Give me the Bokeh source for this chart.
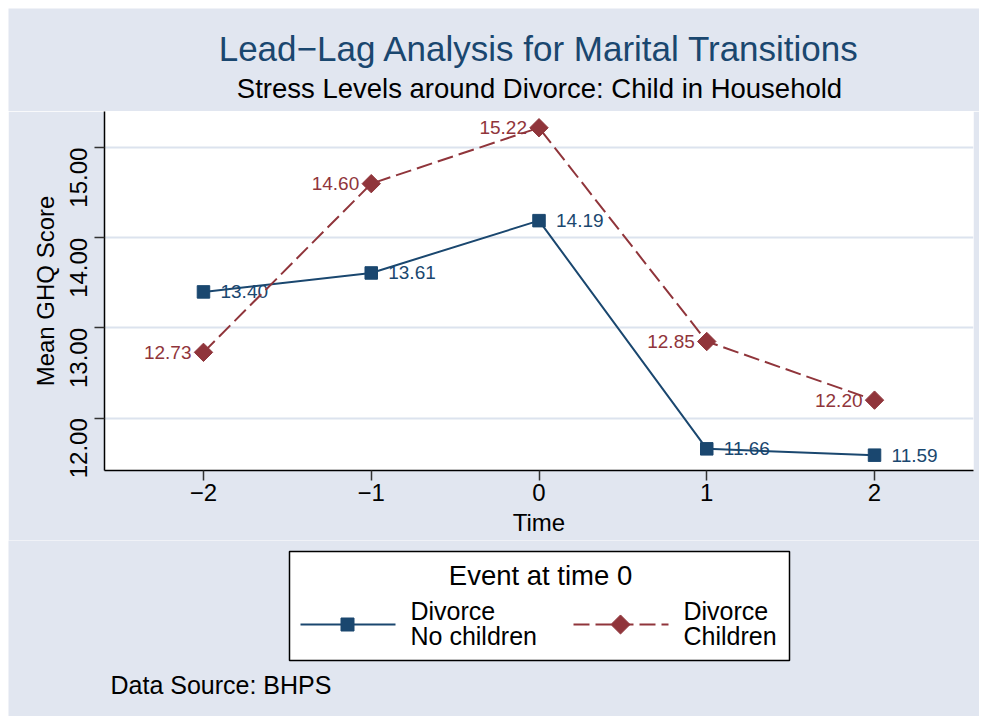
import math
from bokeh.plotting import figure
from bokeh.layouts import column
from bokeh.models import Range1d, FixedTicker, Label
from bokeh.core.properties import value
from bokeh.embed import file_html
from bokeh.resources import INLINE

# ---------------- data ----------------
time = [-2, -1, 0, 1, 2]
no_children = [13.40, 13.61, 14.19, 11.66, 11.59]
children = [12.73, 14.60, 15.22, 12.85, 12.20]
x_ticks = [-2, -1, 0, 1, 2]
x_tick_labels = ["\u22122", "\u22121", "0", "1", "2"]
y_ticks = [12, 13, 14, 15]
y_tick_labels = ["12.00", "13.00", "14.00", "15.00"]
legend_labels_nc = ["Divorce", "No children"]
legend_labels_c = ["Divorce", "Children"]
title_text = "Lead\u2212Lag Analysis for Marital Transitions"
subtitle_text = "Stress Levels around Divorce: Child in Household"
legend_title = "Event at time 0"
note_text = "Data Source: BHPS"
x_label = "Time"
y_label = "Mean GHQ Score"

# ---------------- style ----------------
BG = "#E1E6F0"
GRID = "#DCE3EE"
NAVY = "#1A476F"
MAROON = "#90353B"
FONT = "Liberation Sans"
DASH = "16 6"
W = 971
H_HEAD, H_MAIN, H_FOOT = 103, 429, 176


def no_align(f):
    try:
        f.frame_align = False
    except Exception:
        pass


def blank(h):
    f = figure(width=W, height=h, x_range=Range1d(0, W), y_range=Range1d(0, h),
               toolbar_location=None, output_backend="svg",
               x_axis_type=None, y_axis_type=None, min_border=0)
    f.background_fill_color = BG
    f.border_fill_color = None
    f.outline_line_color = None
    for g in f.grid:
        g.visible = False
    no_align(f)
    return f


def label(f, x, y, text, size, color="black", align="left"):
    f.add_layout(Label(x=x, y=y, text=text, text_font=FONT, text_font_size=size,
                       text_color=color, text_align=align, text_baseline="alphabetic"))


# ---------------- header ----------------
header = blank(H_HEAD)
label(header, 531, 63, title_text, "35px", NAVY, "center")
label(header, 531, 23, subtitle_text, "27.5px", "black", "center")

# ---------------- main plot ----------------
p = figure(width=W, height=H_MAIN, x_range=Range1d(-2.59, 2.59), y_range=Range1d(11.42, 15.40),
           toolbar_location=None, output_backend="svg",
           min_border_left=96, min_border_right=6, min_border_top=0, min_border_bottom=70)
p.background_fill_color = "white"
p.border_fill_color = BG
p.outline_line_color = None
no_align(p)

p.xgrid.visible = False
p.ygrid.ticker = FixedTicker(ticks=y_ticks)
p.ygrid.grid_line_color = GRID
p.ygrid.grid_line_width = 2

p.xaxis.ticker = FixedTicker(ticks=x_ticks)
p.xaxis.major_label_overrides = dict(zip(x_ticks, x_tick_labels))
p.yaxis.ticker = FixedTicker(ticks=y_ticks)
p.yaxis.major_label_overrides = dict(zip(y_ticks, y_tick_labels))
p.yaxis.major_label_orientation = math.pi / 2
p.xaxis.axis_label = x_label
p.yaxis.axis_label = y_label

for ax in (p.xaxis[0], p.yaxis[0]):
    ax.axis_line_color = "black"
    ax.axis_line_width = 1.5
    ax.major_tick_line_color = "#333333"
    ax.major_tick_line_width = 1.5
    ax.major_tick_out = 10
    ax.major_tick_in = 0
    ax.minor_tick_out = 0
    ax.minor_tick_in = 0
    ax.major_label_text_font = FONT
    ax.major_label_text_font_size = "24px"
    ax.major_label_text_color = "black"
    ax.axis_label_text_font = FONT
    ax.axis_label_text_font_size = "24px"
    ax.axis_label_text_font_style = "normal"
    ax.axis_label_text_color = "black"
p.xaxis.major_label_standoff = 3
p.xaxis.axis_label_standoff = 5
p.yaxis.major_label_standoff = 16
p.yaxis.axis_label_standoff = 0

# series 1: no children
p.line(time, no_children, line_color=NAVY, line_width=2)
p.scatter(time, no_children, marker="square", size=12.5, color=NAVY)
p.text(time, no_children, text=[f"{v:.2f}" for v in no_children], x_offset=17,
       text_align="left", text_baseline="middle", text_font=value(FONT),
       text_font_size="19px", text_color=NAVY)
# series 2: children
p.line(time, children, line_color=MAROON, line_width=2, line_dash=DASH)
p.scatter(time, children, marker="square", angle=math.pi / 4, size=13, color=MAROON)
p.text(time, children, text=[f"{v:.2f}" for v in children], x_offset=-12,
       text_align="right", text_baseline="middle", text_font=value(FONT),
       text_font_size="19px", text_color=MAROON)

# ---------------- footer (legend + note) ----------------
footer = blank(H_FOOT)
footer.quad(left=[281], right=[781], bottom=[56], top=[165],
            fill_color="white", line_color="black", line_width=1.5)
label(footer, 532, 141, legend_title, "27.5px", "black", "center")

footer.line([292, 387], [92, 92], line_color=NAVY, line_width=2.2)
footer.scatter([339], [92], marker="square", size=13, color=NAVY)
label(footer, 402, 106, legend_labels_nc[0], "25px")
label(footer, 402, 81, legend_labels_nc[1], "25px")

footer.line([565, 660], [92, 92], line_color=MAROON, line_width=2.2, line_dash=DASH)
footer.scatter([612], [92], marker="square", angle=math.pi / 4, size=13.5, color=MAROON)
label(footer, 675, 106, legend_labels_c[0], "25px")
label(footer, 675, 81, legend_labels_c[1], "25px")

label(footer, 102, 32, note_text, "25px")

layout = column(header, p, footer, spacing=0)
try:
    layout.margin = (8, 8, 8, 8)
except Exception:
    pass
open("out.html", "w").write(file_html(layout, INLINE))
